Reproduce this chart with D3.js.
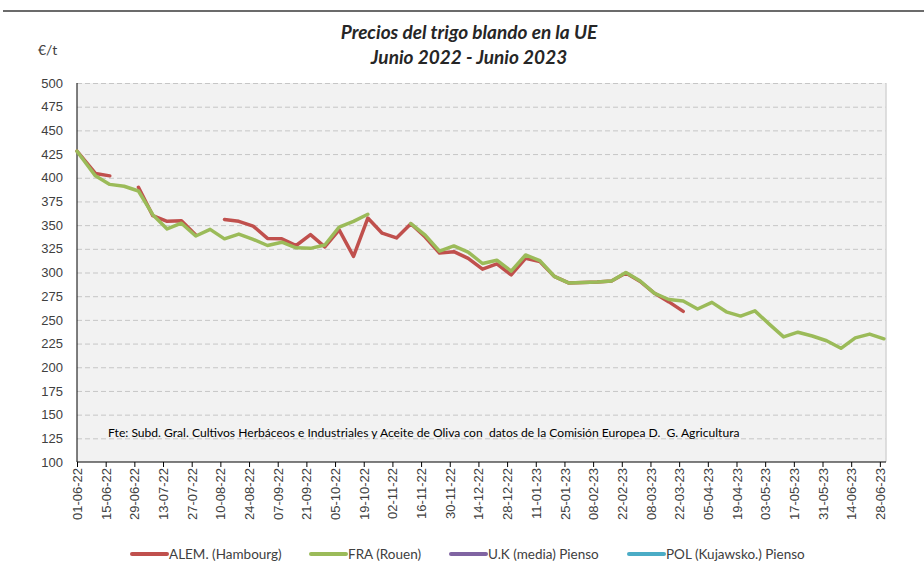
<!DOCTYPE html>
<html>
  <head>
    <meta charset="utf-8">
    <script src="https://d3js.org/d3.v7.min.js"></script>
    <title>Precios del trigo blando en la UE</title>
    <style>
      body {
        margin: 0px;
        background: #ffffff;
      }
      svg {
        font-family: Lato, 'Open Sans', sans-serif;
      }
      .domain {
        display: none;
      }
      .grid line {
        stroke: #c6c6c6;
        stroke-dasharray: 5,3;
      }
      .y-axis text {
        fill: #404040;
        font-size: 13px;
      }
      .x-axis text {
        fill: #404040;
        font-size: 13px;
      }
      .x-axis .tick line {
        stroke: #000;
      }
      .title {
        font-style: italic;
        font-weight: bold;
        font-size: 19px;
        fill: #262626;
      }
      .legend text {
        fill: #404040;
        font-size: 13.5px;
      }
    </style>
  </head>
  <body>
    <svg width="924" height="573"></svg>
    <script>

      // weekly quotation dates
      const dates = [
        '2022-06-01', '2022-06-10', '2022-06-17', '2022-06-24', '2022-07-01', '2022-07-08',
        '2022-07-15', '2022-07-22', '2022-07-29', '2022-08-05', '2022-08-12', '2022-08-19',
        '2022-08-26', '2022-09-02', '2022-09-09', '2022-09-16', '2022-09-23', '2022-09-30',
        '2022-10-07', '2022-10-14', '2022-10-21', '2022-10-28', '2022-11-04', '2022-11-11',
        '2022-11-18', '2022-11-25', '2022-12-02', '2022-12-09', '2022-12-16', '2022-12-23',
        '2022-12-30', '2023-01-06', '2023-01-13', '2023-01-20', '2023-01-27', '2023-02-03',
        '2023-02-10', '2023-02-17', '2023-02-24', '2023-03-03', '2023-03-10', '2023-03-17',
        '2023-03-24', '2023-03-31', '2023-04-07', '2023-04-14', '2023-04-21', '2023-04-28',
        '2023-05-05', '2023-05-12', '2023-05-19', '2023-05-26', '2023-06-02', '2023-06-09',
        '2023-06-16', '2023-06-23', '2023-06-30'
      ];

      const alem = [
        428, 404.5, 402, null, 390, 360, 354, 354.5, 339.5, null, 356, 354,
        349, 336, 335.5, 328.5, 340, 327, 345, 317, 357.5, 341.5, 336.5, 351.5,
        337.5, 320.5, 322, 315, 303.5, 309, 297.5, 315, 311.5, 296, 289, 289.5,
        290, 291, 299.5, 290.5, 278, 269, 259, null, null, null, null, null,
        null, null, null, null, null, null, null, null, null
      ];

      const fra = [
        428, 402, 393, 391, 386, 361, 346, 352, 338.5, 345.5, 335.5, 340.5,
        335, 328.5, 332, 326, 325.5, 329, 348, 354, 361.5, null, null, 351.5,
        339.5, 322.5, 328, 321.5, 309.5, 313, 301.5, 318.5, 312.5, 296, 289, 289.5,
        290, 291, 300, 291, 278, 271.5, 270, 261.5, 268.5, 258.5, 254, 259.5,
        245.5, 232, 237, 233, 228, 220, 231, 235, 230
      ];

      // no quotations shown for these two
      const uk = [];
      const pol = [];

      const seriesNames = ['ALEM. (Hambourg)', 'FRA (Rouen)', 'U.K (media) Pienso', 'POL (Kujawsko.) Pienso'];
      const seriesColors = ['#c0504d', '#9bbb59', '#8064a2', '#4bacc6'];
      const seriesValues = [alem, fra, uk, pol];

      const xTickLabels = [
        '01-06-22', '15-06-22', '29-06-22', '13-07-22', '27-07-22', '10-08-22', '24-08-22',
        '07-09-22', '21-09-22', '05-10-22', '19-10-22', '02-11-22', '16-11-22', '30-11-22',
        '14-12-22', '28-12-22', '11-01-23', '25-01-23', '08-02-23', '22-02-23', '08-03-23',
        '22-03-23', '05-04-23', '19-04-23', '03-05-23', '17-05-23', '31-05-23', '14-06-23',
        '28-06-23'
      ];
      const yTicks = [100, 125, 150, 175, 200, 225, 250, 275, 300, 325, 350, 375, 400, 425, 450, 475, 500];

      const titleLines = ['Precios del trigo blando en la UE', 'Junio 2022 - Junio 2023'];
      const unitLabel = '€/t';
      const sourceNote = 'Fte: Subd. Gral. Cultivos Herbáceos e Industriales y Aceite de Oliva con  datos de la Comisión Europea D.  G. Agricultura';

      const margin = { left: 77, right: 38, top: 83, bottom: 111 };

      const svg = d3.select('svg');
      const width = +svg.attr('width');
      const height = +svg.attr('height');
      const innerWidth = width - margin.left - margin.right;
      const innerHeight = height - margin.top - margin.bottom;

      const parseISO = d3.timeParse('%Y-%m-%d');
      const parseTick = d3.timeParse('%d-%m-%y');
      const fmtTick = d3.timeFormat('%d-%m-%y');

      const xScale = d3.scaleTime()
        .domain([parseISO('2022-06-01'), parseISO('2023-07-01')])
        .range([0, innerWidth]);
      const yScale = d3.scaleLinear()
        .domain([100, 500])
        .range([innerHeight, 0]);

      // top rule of the page
      svg.append('line')
          .attr('x1', 3).attr('x2', width)
          .attr('y1', 11).attr('y2', 11)
          .attr('stroke', '#3a3a3a')
          .attr('stroke-width', 1.5);

      svg.selectAll('.title').data(titleLines)
        .enter().append('text')
          .attr('class', 'title')
          .attr('x', 469)
          .attr('y', (d, i) => 39 + i * 25)
          .attr('text-anchor', 'middle')
          .text(d => d);

      svg.append('text')
          .attr('x', 38)
          .attr('y', 55)
          .attr('fill', '#404040')
          .style('font-size', '14px')
          .text(unitLabel);

      const g = svg.append('g')
          .attr('transform', `translate(${margin.left},${margin.top})`);

      g.append('rect')
          .attr('width', innerWidth)
          .attr('height', innerHeight)
          .attr('fill', '#f2f2f2');

      g.append('g')
          .attr('class', 'grid')
          .call(d3.axisLeft(yScale).tickValues(yTicks.slice(1)).tickSize(-innerWidth).tickFormat(''));

      g.append('line')
          .attr('x1', innerWidth).attr('x2', innerWidth)
          .attr('y1', 0).attr('y2', innerHeight)
          .attr('stroke', '#d4d4d4')
          .attr('stroke-width', 1.5);

      g.append('g')
          .attr('class', 'y-axis')
          .call(d3.axisLeft(yScale).tickValues(yTicks).tickSize(0).tickPadding(14));

      const xAxisG = g.append('g')
          .attr('class', 'x-axis')
          .attr('transform', `translate(0,${innerHeight})`)
          .call(d3.axisBottom(xScale)
            .tickValues(xTickLabels.map(parseTick))
            .tickSize(5)
            .tickFormat(fmtTick));

      xAxisG.selectAll('.tick text')
          .attr('transform', 'rotate(-90)')
          .attr('text-anchor', 'end')
          .attr('x', -6)
          .attr('y', 0)
          .attr('dy', '0.35em');

      g.append('line')
          .attr('x1', 0).attr('x2', innerWidth)
          .attr('y1', innerHeight).attr('y2', innerHeight)
          .attr('stroke', '#000');
      g.append('line')
          .attr('x1', 0).attr('x2', 0)
          .attr('y1', 0).attr('y2', innerHeight)
          .attr('stroke', '#000');

      g.append('text')
          .attr('x', 31)
          .attr('y', 354)
          .attr('fill', '#000')
          .style('font-size', '12.1px')
          .style('white-space', 'pre')
          .text(sourceNote);

      const line = d3.line()
        .defined(d => d.value != null)
        .x(d => xScale(d.date))
        .y(d => yScale(d.value));

      seriesValues.forEach((values, i) => {
        const data = values.map((v, j) => ({ date: parseISO(dates[j]), value: v }));
        g.append('path')
            .datum(data)
            .attr('fill', 'none')
            .attr('stroke', seriesColors[i])
            .attr('stroke-width', 3.5)
            .attr('stroke-linejoin', 'round')
            .attr('stroke-linecap', 'round')
            .attr('d', line);
      });

      const legendX = [132, 311, 451, 629];
      const legendG = svg.append('g')
          .attr('class', 'legend')
          .attr('transform', 'translate(0,554)');
      const items = legendG.selectAll('g').data(seriesNames)
        .enter().append('g')
          .attr('transform', (d, i) => `translate(${legendX[i]},0)`);
      items.append('line')
          .attr('x1', 0).attr('x2', 35)
          .attr('stroke', (d, i) => seriesColors[i])
          .attr('stroke-width', 4)
          .attr('stroke-linecap', 'round');
      items.append('text')
          .attr('x', 37)
          .attr('dy', '0.35em')
          .text(d => d);
    </script>
  </body>
</html>
